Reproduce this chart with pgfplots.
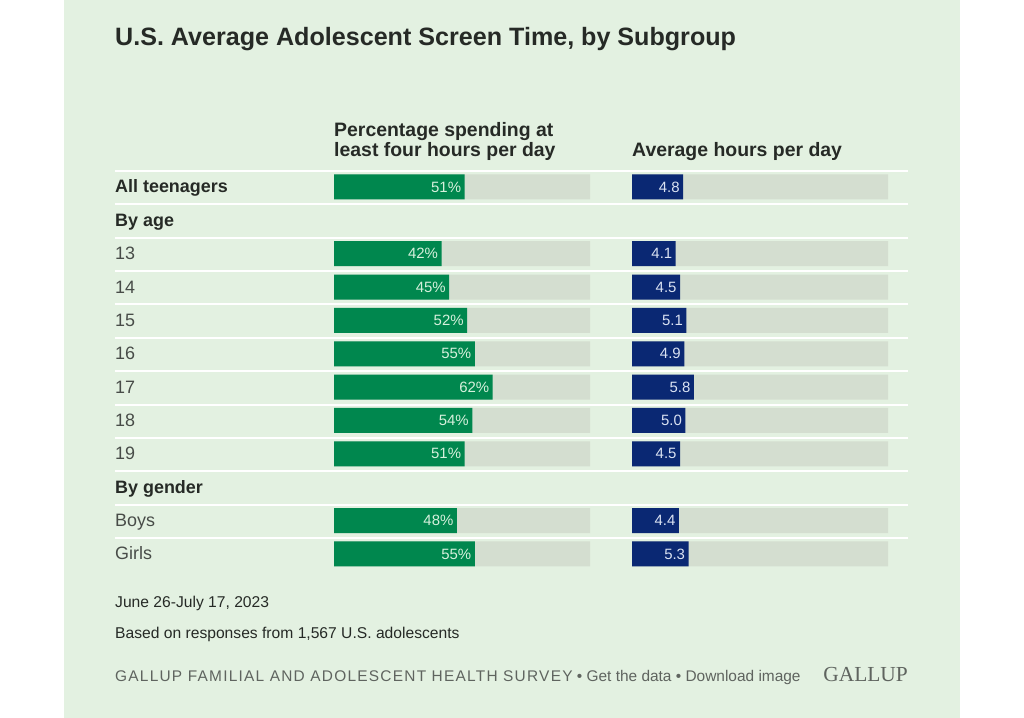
\documentclass[border=0pt]{standalone}
\usepackage{fontspec}
\setmainfont{Liberation Sans}
\newfontfamily\logofont{Liberation Serif}
\usepackage{pgfplots}
\usepackage{pgfplotstable}
\pgfplotsset{compat=1.18}
\pgfplotsset{/pgf/number format/assume math mode=true}

\definecolor{panel}{RGB}{227,241,225}
\definecolor{track}{RGB}{212,222,208}
\definecolor{gallupgreen}{RGB}{0,135,78}
\definecolor{gallupnavy}{RGB}{10,40,115}
\definecolor{labeldark}{RGB}{38,42,38}
\definecolor{labelreg}{RGB}{72,76,72}
\definecolor{footgray}{RGB}{95,100,95}

% row: position from top (0 = All teenagers), pct, hrs, track ends
\pgfplotstableread{
row pct hrs pmax hmax
0  51 4.8 100 24
2  42 4.1 100 24
3  45 4.5 100 24
4  52 5.1 100 24
5  55 4.9 100 24
6  62 5.8 100 24
7  54 5.0 100 24
8  51 4.5 100 24
10 48 4.4 100 24
11 55 5.3 100 24
}\screentime

\begin{document}
\begin{tikzpicture}[x=1bp,y=1bp]
\path[use as bounding box, fill=white] (0,0) rectangle (1024,718);
\fill[panel] (64,0) rectangle (960,718);

% title and column headers
\node[anchor=base west, inner sep=0, text=labeldark, font=\fontsize{25.2}{30}\selectfont\bfseries]
  at (115,718-46) {U.S. Average Adolescent Screen Time, by Subgroup};
\node[anchor=base west, inner sep=0, text=labeldark, font=\fontsize{19.5}{22}\selectfont\bfseries]
  at (334,718-137) {Percentage spending at};
\node[anchor=base west, inner sep=0, text=labeldark, font=\fontsize{19.5}{22}\selectfont\bfseries]
  at (334,718-157) {least four hours per day};
\node[anchor=base west, inner sep=0, text=labeldark, font=\fontsize{19.5}{22}\selectfont\bfseries]
  at (632,718-157) {Average hours per day};

% white separators between rows
\foreach \k in {0,...,11}
  \draw[white, line width=2bp] (115,{718-(171+33.36*\k)}) -- (908,{718-(171+33.36*\k)});

% row labels
\foreach \i/\t in {0/All teenagers,1/By age,9/By gender}
  \node[anchor=base west, inner sep=0, text=labeldark, font=\fontsize{18}{21}\selectfont\bfseries]
    at (115,{718-(193+33.36*\i)}) {\t};
\foreach \i/\t in {2/13,3/14,4/15,5/16,6/17,7/18,8/19,10/Boys,11/Girls}
  \node[anchor=base west, inner sep=0, text=labelreg, font=\fontsize{18}{21}\selectfont]
    at (115,{718-(193+33.36*\i)}) {\t};

\pgfplotsset{
  rowpanel/.style={
    scale only axis, width=256bp, height=400.3bp,
    anchor=north west, hide axis, clip=false,
    ymin=-0.5, ymax=11.5, y dir=reverse, xmin=0,
  },
}

\begin{axis}[rowpanel, at={(334bp,547.7bp)}, xmax=100]
\addplot[xbar, bar width=25bp, bar shift=0pt, fill=track, draw=none]
  table[x=pmax, y=row] {\screentime};
\addplot[xbar, bar width=25bp, bar shift=0pt, fill=gallupgreen, draw=none,
  point meta=x,
  nodes near coords={\pgfmathprintnumber{\pgfplotspointmeta}\%},
  nodes near coords style={anchor=east, text={rgb,255:red,214;green,240;blue,220},
    font=\fontsize{15}{17}\selectfont}]
  table[x=pct, y=row] {\screentime};
\end{axis}

\begin{axis}[rowpanel, at={(632bp,547.7bp)}, xmax=24]
\addplot[xbar, bar width=25bp, bar shift=0pt, fill=track, draw=none]
  table[x=hmax, y=row] {\screentime};
\addplot[xbar, bar width=25bp, bar shift=0pt, fill=gallupnavy, draw=none,
  point meta=x,
  nodes near coords={\pgfmathprintnumber[fixed,fixed zerofill,precision=1]{\pgfplotspointmeta}},
  nodes near coords style={anchor=east, text={rgb,255:red,218;green,226;blue,242},
    font=\fontsize{15}{17}\selectfont}]
  table[x=hrs, y=row] {\screentime};
\end{axis}

% footer
\node[anchor=base west, inner sep=0, text=labeldark, font=\fontsize{15.7}{18}\selectfont]
  at (115,718-608) {June 26-July 17, 2023};
\node[anchor=base west, inner sep=0, text=labeldark, font=\fontsize{15.7}{18}\selectfont]
  at (115,718-639) {Based on responses from 1,567 U.S. adolescents};
\node[anchor=base west, inner sep=0, text=footgray, font=\fontsize{15.5}{18}\selectfont]
  at (115,718-682) {{\addfontfeature{LetterSpace=8}GALLUP FAMILIAL AND ADOLESCENT HEALTH SURVEY} \textbullet{} Get the data \textbullet{} Download image};
\node[anchor=base east, inner sep=0, text=footgray, font=\fontsize{21.5}{24}\selectfont\logofont]
  at (908,718-682) {GALLUP};
\end{tikzpicture}
\end{document}
